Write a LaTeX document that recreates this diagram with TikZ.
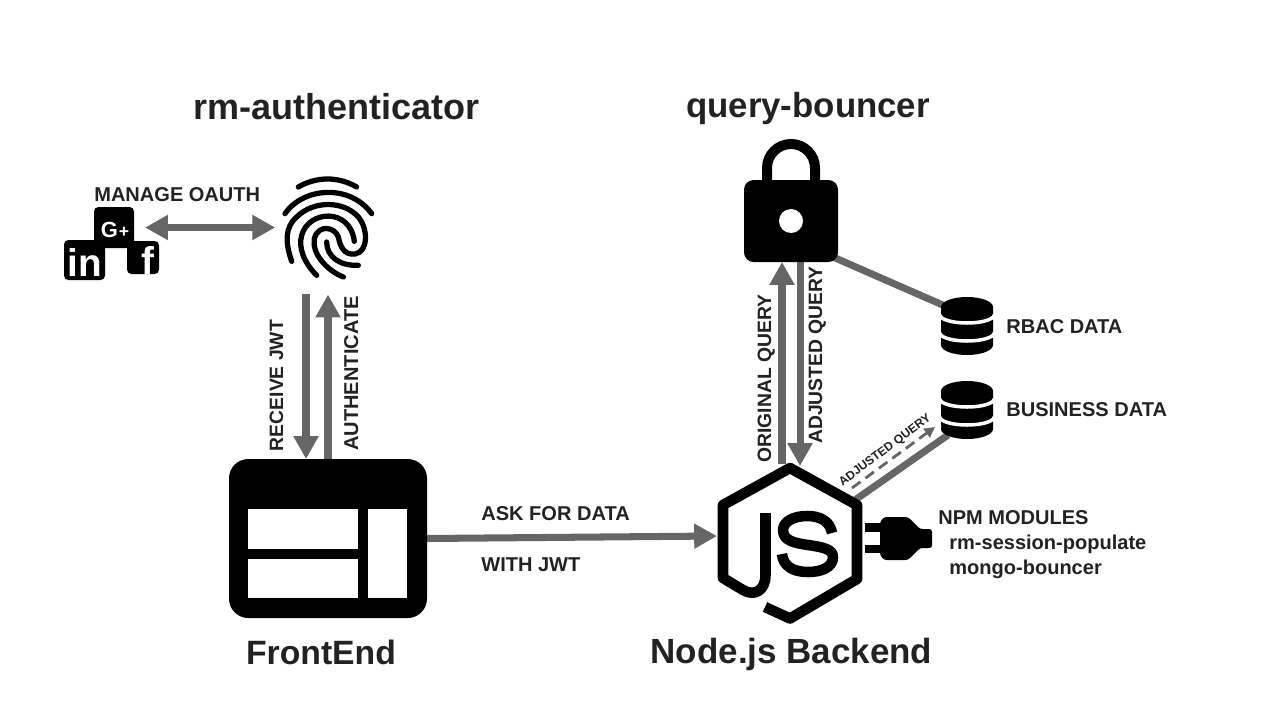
\documentclass[tikz,border=0pt]{standalone}
\usepackage{fontspec}
\setmainfont{Liberation Sans}
\usetikzlibrary{arrows.meta,calc}
\definecolor{ink}{HTML}{222222}
\definecolor{conn}{HTML}{666666}
\tikzset{
  x=0.02cm,y=-0.02cm,
  titletext/.style={font=\bfseries\fontsize{#1}{24}\selectfont,text=ink,inner sep=0pt,anchor=base},
  labeltext/.style={font=\bfseries\fontsize{11.4}{13}\selectfont,text=ink,inner sep=0pt,anchor=base west},
  sidetext/.style={font=\bfseries\fontsize{#1}{13}\selectfont,text=ink,inner sep=0pt,anchor=base,rotate=90},
  iconbox/.style={inner sep=0pt,outer sep=0pt,minimum width=#1},
  thick line/.style={draw=conn,line width=4pt},
  one arrow/.style={thick line,-{Triangle[length=13pt,width=13.5pt]}},
  two arrow/.style={thick line,{Triangle[length=13pt,width=13.5pt]}-{Triangle[length=13pt,width=13.5pt]}},
  dash arrow/.style={draw=conn,line width=1.6pt,dash pattern=on 6pt off 3.5pt,-{Triangle[length=6pt,width=6pt]}},
  print/.style={draw=black,line width=3pt,line cap=round},
  hexline/.style={draw=black,line width=6pt,line join=round},
  db/.pic={
    \fill[black] (0,10) arc[start angle=180,end angle=360,x radius=26,y radius=10]
      -- (52,48) arc[start angle=0,end angle=180,x radius=26,y radius=10] -- cycle;
    \draw[white,line width=2pt] (-1,18) arc[start angle=180,end angle=0,x radius=27,y radius=8];
    \draw[white,line width=2pt] (-1,36) arc[start angle=180,end angle=0,x radius=27,y radius=8];
  }
}
\begin{document}
\begin{tikzpicture}
\useasboundingbox (0,0) rectangle (1280,720);
% icon frames
\node[iconbox=3.96cm,minimum height=3.18cm] (frontend) at (328,538.5) {};
\node[iconbox=2.88cm,minimum height=3.24cm] (js) at (790,543) {};
\node[iconbox=1.88cm,minimum height=2.46cm] (lock) at (791,200.5) {};
\node[iconbox=1.76cm,minimum height=2.10cm] (fp) at (328,231) {};
\node[iconbox=0.80cm,minimum height=0.82cm] (gplus) at (114,227.5) {};
\node[iconbox=1.04cm,minimum height=1.16cm] (rbac) at (967,326) {};
\node[iconbox=1.04cm,minimum height=1.16cm] (bizdb) at (967,410) {};
% connectors
\draw[two arrow,shorten <=6.3pt,shorten >=5pt] (gplus.east) -- (gplus.east -| fp.west);
\draw[one arrow] ($(fp.south)+(-22,11)$) -- ($(frontend.north)+(-22,0)$);
\draw[one arrow] (frontend.north) -- ($(fp.south)+(0,11)$);
\draw[one arrow] (frontend.east) -- ($(js.west)+(-1,-7)$);
\draw[one arrow] ($(js.north)+(-8,2)$) -- ($(lock.south)+(-9,0)$);
\draw[one arrow] ($(lock.south)+(9,0)$) -- ($(js.north)+(10,4)$);
\draw[thick line] ($(lock.south east)+(-5,-5)$) -- ($(rbac.north west)+(4,9)$);
\draw[thick line] ($(js.north east)+(-7,38)$) -- ($(bizdb.south west)+(7,-4)$);
\coordinate (dashstart) at ($(js.north east)+(-10,26)$);
\draw[dash arrow] (dashstart) -- ($(bizdb.south west)+(-6,-12)$);
% FrontEnd icon
\fill[black,rounded corners=11pt] (229,459) rectangle (427,618);
\fill[white] (248,509) rectangle (358,549);
\fill[white] (248,559) rectangle (358,598);
\fill[white] (368,509) rectangle (407,598);
% lock icon
\draw[black,line width=5.7pt] (767,182) -- (767,168) arc[start angle=180,end angle=360,radius=24] -- (815,182);
\fill[black,rounded corners=5.5pt] (744,180) rectangle (838,262);
\fill[white] (791,221) circle[radius=12];
% databases
\pic at (941,297) {db};
\pic at (941,381) {db};
% Node.js icon
\draw[hexline] (765,607) -- (790,618.5) -- (857,579) -- (857,505) -- (790,468) -- (723,505) -- (723,578)
  -- (743,590) .. controls (755,597) and (765.5,590) .. (765.5,575) -- (765.5,513);
\draw[hexline] (832,533) .. controls (830,521) and (820,516) .. (807,516)
  .. controls (793,516) and (783,522) .. (783,530)
  .. controls (783,541) and (795,543) .. (808,545)
  .. controls (822,547) and (833,549) .. (833,557)
  .. controls (833,567) and (822,572) .. (808,572)
  .. controls (793,572) and (783,566) .. (782,554);
% plug
\fill[black] (865,523) rectangle (882,532);
\fill[black] (865,545) rectangle (882,553);
\fill[black,rounded corners=1.5pt] (880,522) -- (884,517) -- (908,517) -- (920,529) -- (932,529) -- (932,548) -- (920,548) -- (908,560) -- (884,560) -- (880,555) -- cycle;
% fingerprint
\begin{scope}[shift={(275,172)},scale=1/3]
\draw[print] (70,45) .. controls (125,13) and (190,13) .. (245,45);
\draw[print] (30,125) .. controls (85,45) and (225,35) .. (290,125);
\draw[print] (50,268) .. controls (30,210) and (30,165) .. (65,135)
  .. controls (115,85) and (205,85) .. (250,135)
  .. controls (280,170) and (280,240) .. (240,246)
  .. controls (205,250) and (195,220) .. (190,195)
  .. controls (180,165) and (130,155) .. (118,200)
  .. controls (110,245) and (155,295) .. (205,315);
\draw[print] (125,310) .. controls (85,270) and (70,225) .. (80,190)
  .. controls (100,115) and (225,105) .. (238,208);
\draw[print] (155,210) .. controls (155,255) and (195,282) .. (250,280);
\end{scope}
% social icons
\fill[black,rounded corners=2.5pt] (94,207) rectangle (134,248);
\fill[black,rounded corners=2.5pt] (64,240) rectangle (105,280);
\fill[black,rounded corners=2.5pt] (127,241) rectangle (159,274);
\node[inner sep=0pt,text=white,font=\bfseries\fontsize{12.5}{14}\selectfont,anchor=base] (gtxt) at (115,237) {G\kern0.5pt{\fontsize{10}{10}\selectfont+}};
\node[inner sep=0pt,text=white,font=\bfseries\fontsize{22}{24}\selectfont,anchor=base] (intxt) at (85,276) {in};
\node[inner sep=0pt,text=white,font=\bfseries\fontsize{22}{24}\selectfont,anchor=base] (ftxt) at (148,274) {f};
% titles
\node[titletext=20.5] (t1) at (336.5,119) {rm-authenticator};
\node[titletext=19.8] (t2) at (808,117) {query-bouncer};
\node[titletext=19.2] (t3) at (321,664) {FrontEnd};
\node[titletext=19.9] (t4) at (791.5,663) {Node.js Backend};
% labels
\node[labeltext] (l1) at (94,201) {MANAGE OAUTH};
\node[sidetext=11] (l2) at (283,385.5) {RECEIVE JWT};
\node[sidetext=11.4] (l3) at (358,373.5) {AUTHENTICATE};
\node[sidetext=11] (l4) at (771,378.5) {ORIGINAL QUERY};
\node[sidetext=11] (l5) at (822,355) {ADJUSTED QUERY};
\node[labeltext] (l6) at (481,520) {ASK FOR DATA};
\node[labeltext] (l7) at (481,571) {WITH JWT};
\node[labeltext] (l8) at (1006,333) {RBAC DATA};
\node[labeltext] (l9) at (1006,416) {BUSINESS DATA};
\node[labeltext] (l10) at (938,524) {NPM MODULES};
\node[labeltext] (l11) at (949,549) {rm-session-populate};
\node[labeltext] (l12) at (949,574) {mongo-bouncer};
\node[inner sep=0pt,text=ink,font=\bfseries\fontsize{6.9}{8}\selectfont,rotate=37,anchor=base] (l13) at (887,453) {ADJUSTED QUERY};
\end{tikzpicture}
\end{document}
